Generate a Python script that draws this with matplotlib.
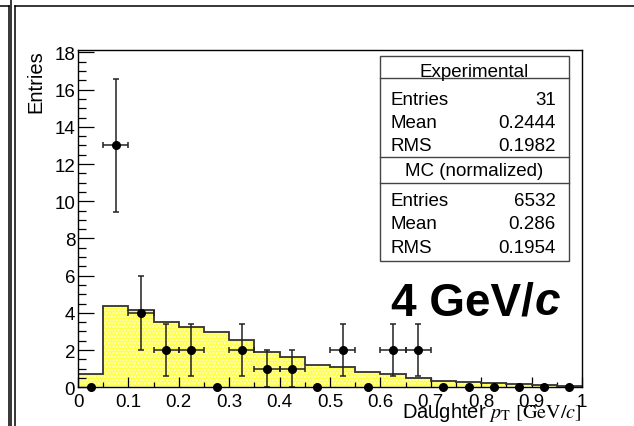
import matplotlib
matplotlib.use('Agg')
import matplotlib.pyplot as plt
from matplotlib.lines import Line2D
from matplotlib.patches import Rectangle
import numpy as np

plt.rcParams['font.family'] = ['Liberation Sans', 'DejaVu Sans']
plt.rcParams['mathtext.fontset'] = 'stix'
plt.rcParams['hatch.linewidth'] = 1.2

# Bin edges (GeV/c) and contents
bin_edges = np.round(np.arange(0, 1.0001, 0.05), 3)
exp_counts = [0, 13, 4, 2, 2, 0, 2, 1, 1, 0, 2, 0, 2, 2, 0, 0, 0, 0, 0, 0]
exp_errors = [0, 3.6, 2.0, 1.41, 1.41, 0, 1.41, 1.0, 1.0, 0, 1.41, 0, 1.41, 1.41, 0, 0, 0, 0, 0, 0]
mc_counts = [0.73, 4.37, 4.15, 3.53, 3.23, 2.99, 2.54, 1.88, 1.65, 1.22,
             1.11, 0.84, 0.72, 0.48, 0.34, 0.27, 0.21, 0.16, 0.12, 0.08]

xtick_vals = [0, 0.1, 0.2, 0.3, 0.4, 0.5, 0.6, 0.7, 0.8, 0.9, 1.0]
xtick_labels = ['0', '0.1', '0.2', '0.3', '0.4', '0.5', '0.6', '0.7', '0.8', '0.9', '1']
ytick_vals = [0, 2, 4, 6, 8, 10, 12, 14, 16, 18]
ytick_labels = ['0', '2', '4', '6', '8', '10', '12', '14', '16', '18']

stats_exp = [('Entries', '31'), ('Mean', '0.2444'), ('RMS', '0.1982')]
stats_mc = [('Entries', '6532'), ('Mean', '0.286'), ('RMS', '0.1954')]

W, H = 634, 427

def px(x, y):
    # pixel coords (origin top-left) -> figure fraction
    return x / W, 1 - y / H

fig = plt.figure(figsize=(W / 100, H / 100), dpi=100)
fig.patch.set_facecolor('white')

# axes box in pixels
ax_l, ax_r, ax_t, ax_b = 78, 582, 50.7, 388.3
ax = fig.add_axes([ax_l / W, 1 - ax_b / H, (ax_r - ax_l) / W, (ax_b - ax_t) / H])

centers = 0.5 * (bin_edges[:-1] + bin_edges[1:])
exp_counts = np.array(exp_counts)
exp_errors = np.array(exp_errors)

# MC histogram, dotted yellow fill + dark outline
ax.stairs(mc_counts, bin_edges, fill=True, facecolor='#ffff3c', edgecolor='#ffffd8',
          hatch='.....', linewidth=0, zorder=1)
ax.stairs(mc_counts, bin_edges, color='#333333', linewidth=1.3, zorder=2)

# experimental points
nz = exp_counts > 0
ax.errorbar(centers[nz], exp_counts[nz], xerr=0.025, yerr=exp_errors[nz], fmt='none',
            ecolor='#222222', elinewidth=1.1, capsize=2.4, capthick=1.1, zorder=4)
ax.plot(centers, exp_counts, 'o', color='black', markersize=5.5, zorder=5, clip_on=False)

ax.set_xlim(0, 1)
ax.set_ylim(0, 18.15)
ax.set_xticks(xtick_vals)
ax.set_xticklabels(xtick_labels)
ax.set_xticks(np.arange(0.05, 1, 0.1), minor=True)
ax.set_yticks(ytick_vals)
ax.set_yticklabels(ytick_labels)
ax.set_yticks(np.arange(0, 18.1, 0.5), minor=True)

ax.tick_params(axis='y', which='major', direction='in', length=11.5, width=0.9,
               labelsize=13.5, pad=2)
ax.tick_params(axis='y', which='minor', direction='in', length=5.8, width=0.9)
ax.tick_params(axis='x', which='major', direction='in', length=7, width=0.9,
               labelsize=13.5, pad=4)
ax.tick_params(axis='x', which='minor', direction='in', length=3.6, width=0.9)
for sp in ax.spines.values():
    sp.set_linewidth(1.0)
    sp.set_zorder(6)

# axis titles (ROOT style: right/top aligned)
fig.text(*px(36, ax_t), 'Entries', rotation=90, ha='center', va='top', fontsize=14.5)
fig.text(*px(ax_r, 418), r'Daughter $p_{\mathrm{T}}$ $[\mathrm{GeV}/c]$',
         ha='right', va='baseline', fontsize=14.5)

# stats box
bx_l, bx_r, bx_t, bx_b = 380, 569, 56.7, 261.7
x0, y0 = px(bx_l, bx_b)
fig.add_artist(Rectangle((x0, y0), (bx_r - bx_l) / W, (bx_b - bx_t) / H,
                         transform=fig.transFigure, facecolor='white',
                         edgecolor='#444444', linewidth=1.0, zorder=7))
for yy in [79.3, 158.3, 184]:
    xa, ya = px(bx_l, yy)
    xb, _ = px(bx_r, yy)
    fig.add_artist(Line2D([xa, xb], [ya, ya], color='#444444', linewidth=1.0, zorder=8))

fs_box = 13.5
cap = 6.3
fig.text(*px((bx_l + bx_r) / 2, 70.7 + cap), 'Experimental', ha='center', va='baseline',
         fontsize=fs_box, zorder=9)
for (name, val), yy in zip(stats_exp, [98.3, 121.7, 145]):
    fig.text(*px(390.7, yy + cap), name, ha='left', va='baseline', fontsize=fs_box, zorder=9)
    fig.text(*px(555.7, yy + cap), val, ha='right', va='baseline', fontsize=fs_box, zorder=9)
fig.text(*px((bx_l + bx_r) / 2, 170 + cap), 'MC (normalized)', ha='center', va='baseline',
         fontsize=fs_box, zorder=9)
for (name, val), yy in zip(stats_mc, [199.3, 222.7, 246.7]):
    fig.text(*px(390.7, yy + cap), name, ha='left', va='baseline', fontsize=fs_box, zorder=9)
    fig.text(*px(555.7, yy + cap), val, ha='right', va='baseline', fontsize=fs_box, zorder=9)

# big energy label: "4 GeV/" bold + italic bold "c"
t1 = fig.text(*px(391, 315), '4 GeV/', ha='left', va='baseline', fontsize=33,
              fontweight='bold', zorder=9)
fig.canvas.draw()
bb = t1.get_window_extent(fig.canvas.get_renderer())
fig.text(bb.x1 / W + 0.001, px(0, 315)[1], 'c', ha='left', va='baseline', fontsize=33,
         fontweight='bold', fontstyle='italic', zorder=9)

# canvas frame lines
frame = [((0, 7), (9, 7)), ((8.5, 7), (8.5, H)), ((11, 0), (11, H)),
         ((14.5, 7), (14.5, H)), ((14.5, 7), (W, 7))]
for (xa, ya), (xb, yb) in frame:
    p1 = px(xa, ya)
    p2 = px(xb, yb)
    fig.add_artist(Line2D([p1[0], p2[0]], [p1[1], p2[1]], color='black', linewidth=1.1))

fig.savefig('out.png', dpi=100)
